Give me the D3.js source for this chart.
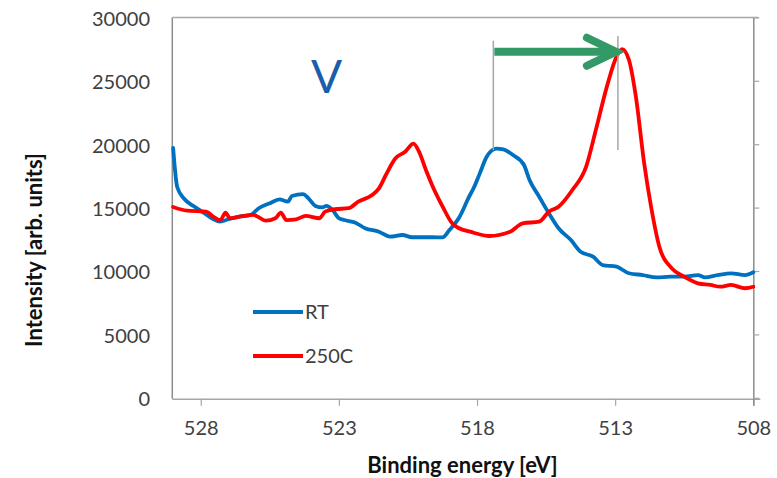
<!DOCTYPE html>
<html>
<head>
<meta charset="utf-8">
<script src="https://cdn.jsdelivr.net/npm/d3@7"></script>
<style>
  html, body { margin: 0; padding: 0; background: #fff; }
  svg { display: block; }
  text { font-family: Lato, "Open Sans", sans-serif; }
</style>
</head>
<body>
<svg id="chart" width="777" height="478"></svg>
<script>
// ---- data (binding energy in eV, intensity in arb. units) ----
const rtEnergy = [529.0, 528.85, 528.6, 528.25, 527.9, 527.6, 527.3, 527.0, 526.6, 526.2, 525.9, 525.5, 525.15, 524.85, 524.7, 524.3, 524.1, 523.85, 523.6, 523.45, 523.25, 523.0, 522.8, 522.4, 522.05, 521.55, 521.15, 520.7, 520.35, 520.0, 519.6, 519.25, 519.0, 518.65, 518.3, 518.1, 517.9, 517.65, 517.3, 517.05, 516.7, 516.3, 516.1, 515.75, 515.4, 515.05, 514.6, 514.25, 513.8, 513.45, 512.95, 512.5, 512.0, 511.5, 511.0, 510.5, 510.0, 509.75, 509.3, 508.8, 508.3, 508.0];
const rtIntensity = [19700, 16600, 15700, 15100, 14600, 14150, 13900, 14080, 14290, 14420, 14950, 15340, 15650, 15470, 15910, 16070, 15730, 15130, 15020, 15130, 14870, 14160, 14020, 13810, 13370, 13100, 12710, 12840, 12660, 12660, 12660, 12650, 13230, 14200, 15800, 16650, 17700, 19010, 19650, 19600, 19150, 18360, 17180, 15860, 14550, 13370, 12440, 11520, 11130, 10470, 10340, 9820, 9680, 9500, 9550, 9550, 9680, 9500, 9680, 9820, 9680, 9900];

const hotEnergy = [529.0, 528.5, 527.8, 527.55, 527.3, 527.1, 526.95, 526.6, 526.1, 525.9, 525.65, 525.3, 525.1, 524.9, 524.55, 524.2, 523.7, 523.5, 523.15, 522.65, 522.3, 521.8, 521.55, 521.3, 520.95, 520.6, 520.3, 520.1, 519.85, 519.6, 519.25, 518.9, 518.65, 518.25, 517.55, 516.8, 516.35, 515.75, 515.4, 515.05, 514.55, 514.05, 513.7, 513.3, 512.95, 512.75, 512.5, 512.25, 511.95, 511.7, 511.4, 510.95, 510.5, 510.0, 509.55, 509.2, 508.8, 508.3, 508.0];
const hotIntensity = [15050, 14760, 14680, 14290, 14000, 14600, 14160, 14290, 14420, 14240, 13970, 14160, 14600, 14020, 14080, 14340, 14160, 14680, 14870, 14950, 15470, 15990, 16520, 17570, 18890, 19410, 20050, 19410, 17970, 16650, 15100, 13760, 13370, 13100, 12760, 13100, 13760, 13890, 14680, 15070, 16390, 18230, 21120, 24540, 26900, 27500, 26640, 23740, 18490, 15070, 11920, 10210, 9550, 9030, 8900, 8760, 8900, 8640, 8760];

const seriesNames = ["RT", "250C"];
const xTicks = [528, 523, 518, 513, 508];
const yTicks = [0, 5000, 10000, 15000, 20000, 25000, 30000];

// annotation: peak markers and shift arrow
const markerEnergy = [517.41, 512.9];
const markerTop = [28160, 28530];
const markerBottom = [19540, 19540];
const arrowLevel = 27290;

// ---- layout ----
const svg = d3.select("#chart");
const pLeft = 172.3, pRight = 753.3, pTop = 17.4, pBottom = 397.8;

const x = d3.scaleLinear().domain([529.03, 508]).range([pLeft, pRight]);
const y = d3.scaleLinear().domain([0, 30000]).range([pBottom, pTop]);

const axisColor = "#a6a6a6";
const textColor = "#404040";

// plot frame: left and top border
svg.append("line").attr("x1", pLeft).attr("x2", pLeft).attr("y1", pTop).attr("y2", pBottom + 1)
  .attr("stroke", "#8c8c8c").attr("stroke-width", 1.5);
svg.append("line").attr("x1", pLeft).attr("x2", pRight + 5).attr("y1", pTop).attr("y2", pTop)
  .attr("stroke", axisColor).attr("stroke-width", 1.5);

// horizontal axis (bottom)
const xAxis = d3.axisBottom(x).tickValues(xTicks).tickSize(7).tickFormat(d3.format("d"));
const gx = svg.append("g").attr("transform", `translate(0,${pBottom + 1})`).call(xAxis);
gx.select(".domain").attr("d", `M${pLeft},0.5H${pRight + 7}`).attr("stroke", axisColor).attr("stroke-width", 1.5);
gx.selectAll(".tick line").attr("stroke", axisColor).attr("stroke-width", 1.2);
gx.selectAll(".tick text").attr("fill", textColor).style("font-size", "20px")
  .attr("y", 0).attr("dy", null).attr("transform", "translate(0,36.5)");

// vertical axis line at right (x = 508) with outward ticks
const yAxisR = d3.axisRight(y).tickValues(yTicks).tickSize(6).tickFormat("");
const gyr = svg.append("g").attr("transform", `translate(${pRight},0)`).call(yAxisR);
gyr.select(".domain").attr("d", `M0.5,${pTop}V${pBottom + 8}`).attr("stroke", "#8c8c8c").attr("stroke-width", 1.5);
gyr.selectAll(".tick line").attr("stroke", axisColor).attr("stroke-width", 1.2);

// y tick labels on the left
const yAxisL = d3.axisLeft(y).tickValues(yTicks).tickSize(0).tickPadding(0).tickFormat(d3.format("d"));
const gyl = svg.append("g").attr("transform", `translate(150,1.5)`).call(yAxisL);
gyl.select(".domain").remove();
gyl.selectAll(".tick text").attr("fill", textColor).style("font-size", "20px").attr("x", 0);

// axis titles
svg.append("text").attr("x", 462.5).attr("y", 473).attr("text-anchor", "middle")
  .attr("fill", "#111").style("font-size", "22px").style("font-weight", "bold")
  .text("Binding energy [eV]");
svg.append("text").attr("transform", "translate(42,250) rotate(-90)").attr("text-anchor", "middle")
  .attr("fill", "#111").style("font-size", "22px").style("font-weight", "bold")
  .text("Intensity [arb. units]");

// series
const line = d3.line().x(d => x(d[0])).y(d => y(d[1])).curve(d3.curveMonotoneX);
const rtData = d3.zip(rtEnergy, rtIntensity);
const hotData = d3.zip(hotEnergy, hotIntensity);
const colors = ["#0070c0", "#ff0000"];

svg.append("path").datum(rtData).attr("d", line).attr("fill", "none")
  .attr("stroke", colors[0]).attr("stroke-width", 3.8).attr("stroke-linejoin", "round").attr("stroke-linecap", "round");
svg.append("path").datum(hotData).attr("d", line).attr("fill", "none")
  .attr("stroke", colors[1]).attr("stroke-width", 3.8).attr("stroke-linejoin", "round").attr("stroke-linecap", "round");

// peak marker lines
markerEnergy.forEach((e, i) => {
  svg.append("line").attr("x1", x(e)).attr("x2", x(e))
    .attr("y1", y(markerTop[i])).attr("y2", y(markerBottom[i]))
    .attr("stroke", "#a6a6a6").attr("stroke-width", 1.5);
});

// shift arrow
const green = "#339966";
const ax0 = x(markerEnergy[0]), ax1 = x(markerEnergy[1]), ay = y(arrowLevel);
svg.append("line").attr("x1", ax0 + 1).attr("x2", ax1 - 6).attr("y1", ay).attr("y2", ay)
  .attr("stroke", green).attr("stroke-width", 8);
svg.append("path")
  .attr("d", `M${ax1 - 31},${ay - 14}L${ax1 - 2},${ay}L${ax1 - 31},${ay + 14}`)
  .attr("fill", "none").attr("stroke", green).attr("stroke-width", 8)
  .attr("stroke-linecap", "round").attr("stroke-linejoin", "miter");

// "V" label
svg.append("text").attr("x", 311).attr("y", 93).attr("fill", "#1b5dab")
  .style("font-size", "46px").style("font-weight", 400).text("V");

// legend
const legendY = [312, 356];
seriesNames.forEach((name, i) => {
  svg.append("line").attr("x1", 253).attr("x2", 303).attr("y1", legendY[i]).attr("y2", legendY[i])
    .attr("stroke", colors[i]).attr("stroke-width", 3.8);
  svg.append("text").attr("x", 305).attr("y", legendY[i] + 7).attr("fill", textColor)
    .style("font-size", "20px").text(name);
});
</script>
</body>
</html>
